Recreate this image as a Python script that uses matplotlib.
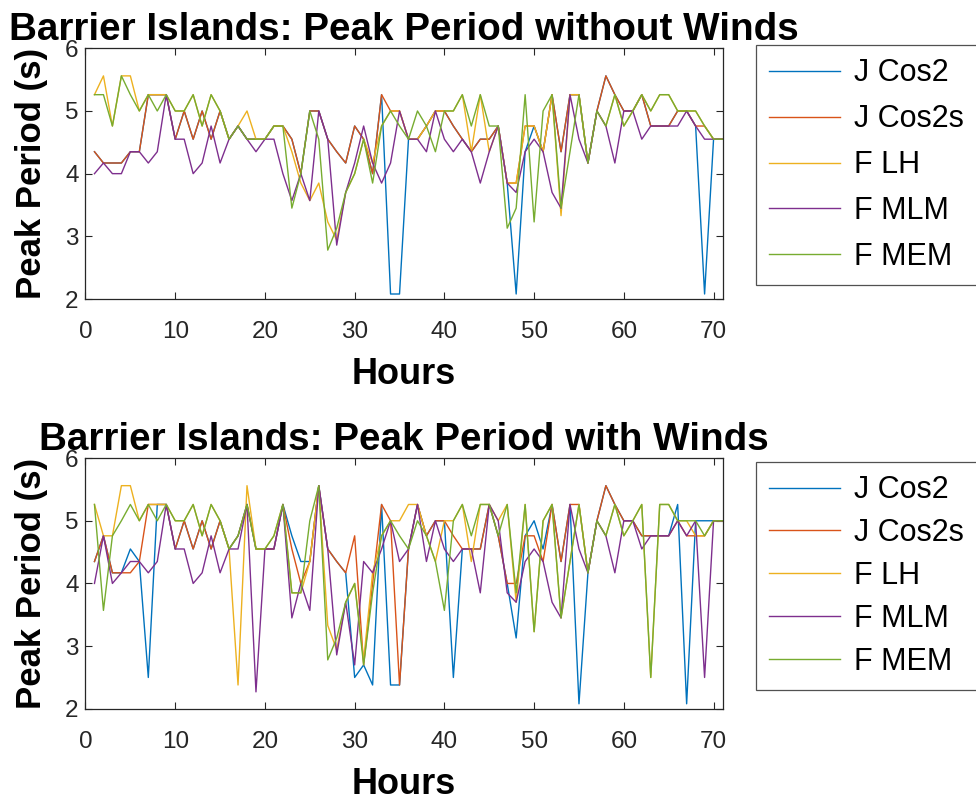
import numpy as np
import matplotlib
matplotlib.use('Agg')
import matplotlib.pyplot as plt

plt.rcParams['font.family'] = ['Liberation Sans', 'DejaVu Sans']

hours = list(range(1, 72))
labels = ['J Cos2', 'J Cos2s', 'F LH', 'F MLM', 'F MEM']
colors = ['#0072BD', '#D95319', '#EDB120', '#7E2F8E', '#77AC30']

# peak period (s), without winds
nw_jcos2 = [4.35, 4.17, 4.17, 4.17, 4.35, 4.35, 5.26, 5.26, 5.26, 4.55,
            5.0, 4.55, 5.0, 4.55, 5.0, 4.55, 4.76, 4.55, 4.55, 4.55,
            4.76, 4.76, 4.55, 4.0, 5.0, 5.0, 4.55, 4.35, 4.17, 4.76,
            4.55, 4.0, 5.26, 2.08, 2.08, 4.55, 4.55, 4.76, 5.0, 5.0,
            4.76, 4.55, 4.35, 4.55, 4.55, 4.76, 3.85, 2.08, 4.35, 4.76,
            4.35, 5.26, 4.35, 5.26, 5.26, 4.17, 5.0, 5.56, 5.26, 5.0,
            5.0, 5.26, 4.76, 4.76, 4.76, 5.0, 5.0, 4.76, 2.08, 4.55, 4.55]
nw_jcos2s = [4.35, 4.17, 4.17, 4.17, 4.35, 4.35, 5.26, 5.26, 5.26, 4.55,
             5.0, 4.55, 5.0, 4.55, 5.0, 4.55, 4.76, 4.55, 4.55, 4.55,
             4.76, 4.76, 4.55, 4.0, 5.0, 5.0, 4.55, 4.35, 4.17, 4.76,
             4.55, 4.0, 5.26, 5.0, 5.0, 4.55, 4.55, 4.76, 5.0, 5.0,
             4.76, 4.55, 4.35, 4.55, 4.55, 4.76, 3.85, 3.85, 4.76, 4.76,
             4.35, 5.26, 4.35, 5.26, 5.26, 4.17, 5.0, 5.56, 5.26, 5.0,
             5.0, 5.26, 4.76, 4.76, 4.76, 5.0, 5.0, 4.76, 4.76, 4.55, 4.55]
nw_flh = [5.26, 5.56, 4.76, 5.56, 5.56, 5.0, 5.26, 5.26, 5.26, 5.0,
          5.0, 5.26, 4.76, 5.26, 5.0, 4.55, 4.76, 5.0, 4.55, 4.55,
          4.76, 4.76, 4.35, 3.85, 3.57, 3.85, 3.23, 2.94, 3.7, 4.0,
          4.55, 4.17, 4.76, 5.0, 5.0, 4.55, 4.55, 4.76, 5.0, 5.0,
          5.0, 5.26, 4.35, 5.26, 4.35, 4.76, 3.85, 3.85, 4.76, 4.76,
          4.35, 5.26, 3.33, 5.26, 5.26, 4.17, 5.0, 4.76, 5.26, 4.76,
          5.0, 5.26, 5.0, 5.26, 5.26, 5.0, 5.0, 5.0, 4.76, 4.55, 4.55]
nw_fmlm = [4.0, 4.17, 4.0, 4.0, 4.35, 4.35, 4.17, 4.35, 5.26, 4.55,
           4.55, 4.0, 4.17, 4.76, 4.17, 4.55, 4.76, 4.55, 4.35, 4.55,
           4.55, 4.0, 3.57, 4.0, 3.57, 5.0, 4.55, 2.86, 3.7, 4.17,
           4.76, 4.17, 3.85, 4.17, 5.0, 4.55, 4.55, 4.35, 5.0, 4.55,
           4.35, 4.55, 4.35, 3.85, 4.35, 4.76, 3.85, 3.7, 4.35, 4.55,
           4.35, 3.7, 3.45, 5.26, 4.55, 4.17, 5.0, 4.76, 4.17, 5.0,
           5.0, 4.55, 4.76, 4.76, 4.76, 4.76, 5.0, 4.76, 4.55, 4.55, 4.55]
nw_fmem = [5.26, 5.26, 4.76, 5.56, 5.26, 5.0, 5.26, 5.0, 5.26, 5.0,
           5.0, 5.26, 4.76, 5.26, 5.0, 4.55, 4.76, 4.55, 4.55, 4.55,
           4.76, 4.76, 3.45, 4.0, 5.0, 4.55, 2.78, 3.13, 3.7, 4.0,
           4.55, 3.85, 4.76, 5.0, 4.76, 4.55, 5.0, 4.76, 4.35, 5.0,
           5.0, 5.26, 4.76, 5.26, 4.76, 4.76, 3.13, 3.45, 5.26, 3.23,
           5.0, 5.26, 3.45, 4.35, 5.26, 4.17, 5.0, 4.76, 5.26, 4.76,
           5.0, 5.26, 5.0, 5.26, 5.26, 5.0, 5.0, 5.0, 4.76, 4.55, 4.55]

# peak period (s), with winds
ww_jcos2 = [4.35, 4.76, 4.17, 4.17, 4.55, 4.35, 2.5, 5.26, 5.26, 4.55,
            5.0, 4.55, 5.0, 4.55, 5.0, 4.55, 4.76, 5.26, 4.55, 4.55,
            4.55, 5.26, 4.76, 4.35, 4.35, 5.56, 4.55, 4.35, 4.17, 2.5,
            2.7, 2.38, 5.26, 2.38, 2.38, 4.55, 5.26, 4.76, 5.0, 5.0,
            2.5, 4.55, 4.55, 4.55, 5.26, 4.76, 4.0, 3.13, 4.76, 5.0,
            4.55, 5.26, 4.35, 5.26, 2.08, 4.17, 5.0, 5.56, 5.26, 5.0,
            5.0, 4.76, 4.76, 4.76, 4.76, 5.26, 2.08, 5.0, 5.0, 5.0, 5.0]
ww_jcos2s = [4.35, 4.76, 4.17, 4.17, 4.17, 4.35, 5.26, 5.26, 5.26, 4.55,
             5.0, 4.55, 5.0, 4.55, 5.0, 4.55, 4.76, 5.26, 4.55, 4.55,
             4.55, 5.26, 4.55, 4.0, 4.35, 5.56, 4.55, 4.35, 4.17, 4.76,
             2.7, 4.0, 5.26, 5.0, 2.38, 4.55, 5.26, 4.76, 5.0, 5.0,
             4.76, 4.55, 4.55, 4.55, 5.26, 4.76, 4.0, 4.0, 4.76, 4.76,
             4.35, 5.26, 4.35, 5.26, 5.26, 4.17, 5.0, 5.56, 5.26, 5.0,
             5.0, 4.76, 4.76, 4.76, 4.76, 5.0, 4.76, 4.76, 4.76, 5.0, 5.0]
ww_flh = [5.26, 4.76, 4.76, 5.56, 5.56, 5.0, 5.26, 5.26, 5.26, 5.0,
          5.0, 5.26, 4.76, 5.26, 5.0, 4.55, 2.38, 5.56, 4.55, 4.55,
          4.76, 5.26, 3.85, 3.85, 4.35, 5.56, 3.33, 2.94, 3.7, 4.0,
          2.78, 4.17, 4.76, 5.0, 5.0, 5.26, 5.26, 4.76, 4.35, 5.0,
          5.0, 5.26, 4.35, 5.26, 5.26, 5.0, 5.26, 3.7, 5.26, 3.23,
          5.0, 5.26, 3.45, 4.35, 5.26, 4.17, 5.0, 4.76, 5.26, 4.76,
          5.0, 5.26, 2.5, 5.26, 5.26, 5.0, 5.0, 4.76, 4.76, 5.0, 5.0]
ww_fmlm = [4.0, 4.76, 4.0, 4.17, 4.35, 4.35, 4.17, 4.35, 5.26, 4.55,
           4.55, 4.0, 4.17, 4.76, 4.17, 4.55, 4.55, 5.26, 2.27, 4.55,
           4.55, 5.26, 3.45, 4.0, 3.57, 5.56, 4.55, 2.86, 3.7, 2.7,
           4.35, 4.17, 4.55, 5.0, 4.35, 4.55, 5.26, 4.35, 5.0, 4.55,
           4.35, 4.55, 4.55, 3.85, 5.26, 5.0, 3.85, 3.7, 4.35, 4.55,
           4.35, 3.7, 3.45, 5.26, 4.55, 4.17, 5.0, 4.76, 4.17, 5.0,
           5.0, 4.55, 4.76, 4.76, 4.76, 5.0, 4.76, 5.0, 2.5, 5.0, 5.0]
ww_fmem = [5.26, 3.57, 4.76, 5.0, 5.26, 5.0, 5.26, 5.0, 5.26, 5.0,
           5.0, 5.26, 4.76, 5.26, 5.0, 4.55, 4.76, 5.26, 4.55, 4.55,
           4.76, 5.26, 3.85, 3.85, 5.0, 5.56, 2.78, 3.13, 3.7, 4.0,
           2.7, 3.85, 4.76, 5.0, 4.76, 4.55, 5.0, 4.76, 4.35, 3.57,
           5.0, 5.26, 4.76, 5.26, 5.26, 4.76, 5.26, 3.85, 5.26, 3.23,
           5.0, 5.26, 3.45, 4.35, 5.26, 4.17, 5.0, 4.76, 5.26, 4.76,
           5.0, 5.26, 2.5, 5.26, 5.26, 5.0, 5.0, 5.0, 4.76, 5.0, 5.0]

# (title, series, legend label spacing, legend top in axes units)
panels = [
    ('Barrier Islands: Peak Period without Winds',
     [nw_jcos2, nw_jcos2s, nw_flh, nw_fmlm, nw_fmem], 0.52, 1.013),
    ('Barrier Islands: Peak Period with Winds',
     [ww_jcos2, ww_jcos2s, ww_flh, ww_fmlm, ww_fmem], 0.42, 0.985),
]

fig = plt.figure(figsize=(9.76, 8.01), dpi=100)
axes_pos = [[0.0876, 0.6267, 0.6527, 0.313],
            [0.0876, 0.1151, 0.6527, 0.313]]
axis_col = '#262626'

for pos, (title, series, lspace, ltop) in zip(axes_pos, panels):
    ax = fig.add_axes(pos)
    for y, lab, c in zip(series, labels, colors):
        ax.plot(hours, y, color=c, lw=1.0, label=lab)
    ax.set_xlim(0, 71)
    ax.set_ylim(2, 6)
    ax.set_xticks(np.arange(0, 71, 10))
    ax.set_yticks(np.arange(2, 7, 1))
    ax.tick_params(direction='in', top=True, right=True, labelsize=17.5,
                   colors=axis_col, length=5, width=0.8)
    ax.tick_params(axis='x', pad=16)
    ax.tick_params(axis='y', pad=5)
    for sp in ax.spines.values():
        sp.set_color(axis_col)
        sp.set_linewidth(0.9)
    ax.set_title(title, fontsize=27.8, fontweight='bold', pad=6)
    ax.set_xlabel('Hours', fontsize=26, fontweight='bold', labelpad=10)
    ax.set_ylabel('Peak Period (s)', fontsize=25, fontweight='bold', labelpad=12)
    leg = ax.legend(loc='upper left', bbox_to_anchor=(1.0526, 0.0, 0.4, ltop),
                    mode='expand', fontsize=22, frameon=True, fancybox=False,
                    borderaxespad=0, handlelength=2.3, handletextpad=0.45,
                    labelspacing=lspace, borderpad=0.44)
    leg.get_frame().set_edgecolor(axis_col)
    leg.get_frame().set_linewidth(0.9)

fig.savefig('out.png', dpi=100)
